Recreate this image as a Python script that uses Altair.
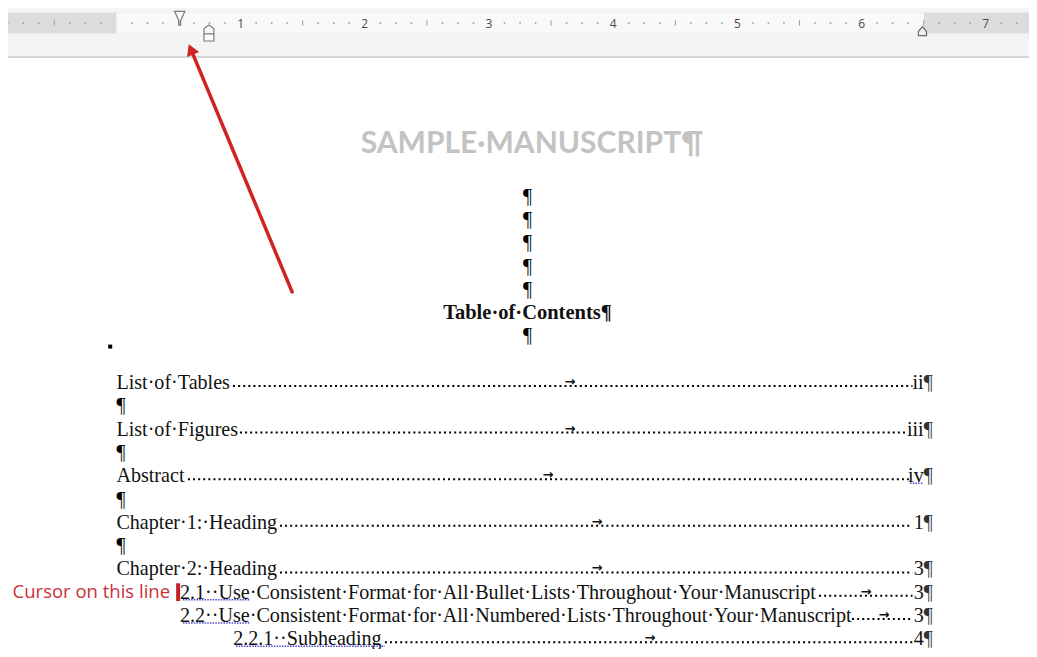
import altair as alt
import pandas as pd

# ------------------------------------------------------------------
# Data: document content in ruler inches (x) and text lines (y)
# ------------------------------------------------------------------
ruler_labels = [1, 2, 3, 4, 5, 6, 7]
ruler_dots = [k / 8 for k in range(-7, 59) if k % 4 != 0]
ruler_halves = [k / 2 for k in range(-1, 15, 2)]
ruler_row = -5.408            # vertical centre of the ruler, in text lines

indent_first_line = 0.51      # down-triangle marker
indent_hanging = 0.745        # house marker
indent_right = 6.49           # right indent marker

title_text = "SAMPLE·MANUSCRIPT¶"
title_pos = (3.346, -0.2)

centered_pilcrow_lines = [2, 3, 4, 5, 6, 8]
centered_x = 3.31
toc_heading = "Table·of·Contents¶"
toc_heading_line = 7

left_pilcrow_lines = [11, 13, 15, 17]

toc_titles = [
    "List·of·Tables",
    "List·of·Figures",
    "Abstract",
    "Chapter·1:·Heading",
    "Chapter·2:·Heading",
    "2.1··Use·Consistent·Format·for·All·Bullet·Lists·Throughout·Your·Manuscript",
    "2.2··Use·Consistent·Format·for·All·Numbered·Lists·Throughout·Your·Manuscript",
    "2.2.1··Subheading",
]
toc_pages = ["ii", "iii", "iv", "1", "3", "3", "3", "4"]
toc_lines = [10, 12, 14, 16, 18, 19, 20, 21]
toc_indent = [0.0, 0.0, 0.0, 0.0, 0.0, 0.512, 0.512, 0.94]
toc_text_end = [0.939, 0.995, 0.576, 1.317, 1.317, 5.657, 5.923, 2.162]
toc_tab_arrow = [3.652, 3.652, 3.475, 3.869, 3.869, 6.035, 6.18, 4.296]
toc_leader_end = [6.41, 6.36, 6.38, 6.39, 6.41, 6.41, 6.41, 6.41]
right_tab = 6.5

# spell-check squiggles: (line, x start, x end)
squiggle_lines = [14, 19, 20, 21]
squiggle_x0 = [6.39, 0.536, 0.536, 0.963]
squiggle_x1 = [6.49, 1.075, 1.075, 2.162]

cursor_label = "Cursor on this line"
cursor_line = 19
cursor_label_x = 0.432
cursor_x = 0.497

arrow_tail = (1.415, 6.137)
arrow_head = (0.600, -4.275)

# ------------------------------------------------------------------
# Scales (1 inch on the ruler = 124.2 px, one text line = 23.3 px)
# ------------------------------------------------------------------
W, H = 1021, 641
PX_IN, X0 = 124.2, 116.4
PX_LINE, L10 = 23.3, 382.0
x_dom = [(8 - X0) / PX_IN, (8 + W - X0) / PX_IN]
y_dom = [10 + (8 - L10) / PX_LINE, 10 + (8 + H - L10) / PX_LINE]

xs = alt.Scale(domain=x_dom, nice=False, zero=False)
ys = alt.Scale(domain=y_dom, nice=False, zero=False, reverse=True)


def X(f="x"):
    return alt.X(f"{f}:Q", scale=xs, axis=None)


def Y(f="y"):
    return alt.Y(f"{f}:Q", scale=ys, axis=None)


SERIF = "Liberation Serif"
FS = 20.1
DY = 1
INK = "#111111"

# ------------------------------------------------------------------
# Ruler / chrome
# ------------------------------------------------------------------
chrome = pd.DataFrame([
    {"x": x_dom[0], "x2": x_dom[1], "y": y_dom[0], "y2": -3.99, "c": "#f4f4f4"},
    {"x": x_dom[0], "x2": x_dom[1], "y": -5.86, "y2": -4.96, "c": "#dcdcdc"},
    {"x": 0.0, "x2": right_tab, "y": -5.86, "y2": -4.96, "c": "#f9f9f9"},
    {"x": x_dom[0], "x2": x_dom[1], "y": -3.99, "y2": -3.906, "c": "#d6d6d6"},
])
chrome_layer = alt.Chart(chrome).mark_rect().encode(
    x=X(), x2="x2:Q", y=Y(), y2="y2:Q", color=alt.Color("c:N", scale=None)
)

dots_layer = alt.Chart(pd.DataFrame({"x": ruler_dots, "y": ruler_row})).mark_square(
    size=2.5, color="#9a9a9a", opacity=1
).encode(x=X(), y=Y())

halves_layer = alt.Chart(
    pd.DataFrame({"x": ruler_halves, "y": ruler_row - 0.11, "y2": ruler_row + 0.11})
).mark_rule(color="#9a9a9a", strokeWidth=1).encode(x=X(), y=Y(), y2="y2:Q")

ruler_num_layer = alt.Chart(
    pd.DataFrame({"x": ruler_labels, "y": ruler_row, "t": [str(v) for v in ruler_labels]})
).mark_text(font="Open Sans", fontSize=12, color="#4a4a4a", baseline="middle",
            align="center", dy=1).encode(x=X(), y=Y(), text="t:N")

first_line_shape = "M-0.75,-1 L0.75,-1 L0.12,0.35 L0.12,1 L-0.12,1 L-0.12,0.35 Z"
hanging_shape = ("M0,-1 L0.62,-0.55 L0.62,0.1 L-0.62,0.1 L-0.62,-0.55 Z "
                 "M-0.62,0.1 L0.62,0.1 L0.62,1 L-0.62,1 Z")
right_shape = "M0,-1 L0.9,0.1 L0.9,1 L-0.9,1 L-0.9,0.1 Z"

m1 = alt.Chart(pd.DataFrame({"x": [indent_first_line], "y": [-5.612]})).mark_point(
    shape=first_line_shape, size=190, filled=True, fill="#fafafa", stroke="#7a7a7a",
    strokeWidth=1.2, opacity=1).encode(x=X(), y=Y())
m2 = alt.Chart(pd.DataFrame({"x": [indent_hanging], "y": [-4.979]})).mark_point(
    shape=hanging_shape, size=256, filled=True, fill="#fafafa", stroke="#7a7a7a",
    strokeWidth=1.2, opacity=1).encode(x=X(), y=Y())
m3 = alt.Chart(pd.DataFrame({"x": [indent_right], "y": [-5.06]})).mark_point(
    shape=right_shape, size=81, filled=True, fill="#f0f0f0", stroke="#6a6a6a",
    strokeWidth=1.2, opacity=1).encode(x=X(), y=Y())

# ------------------------------------------------------------------
# Document text
# ------------------------------------------------------------------
title_layer = alt.Chart(
    pd.DataFrame({"x": [title_pos[0]], "y": [title_pos[1]], "t": [title_text]})
).mark_text(font="Lato", fontWeight="bold", fontSize=30, color="#c3c3c3",
            align="center", baseline="middle").encode(x=X(), y=Y(), text="t:N")

centered_layer = alt.Chart(
    pd.DataFrame({"x": centered_x, "y": centered_pilcrow_lines, "t": "¶"})
).mark_text(font=SERIF, fontSize=FS, color="#000000", align="center",
            baseline="middle", dy=DY).encode(x=X(), y=Y(), text="t:N")

heading_layer = alt.Chart(
    pd.DataFrame({"x": [centered_x], "y": [toc_heading_line], "t": [toc_heading]})
).mark_text(font=SERIF, fontSize=20.5, fontWeight="bold", color=INK,
            align="center", baseline="middle", dy=DY).encode(x=X(), y=Y(), text="t:N")

left_pil_layer = alt.Chart(
    pd.DataFrame({"x": 0.0, "y": left_pilcrow_lines, "t": "¶"})
).mark_text(font=SERIF, fontSize=FS, color="#000000", align="left",
            baseline="middle", dy=DY).encode(x=X(), y=Y(), text="t:N")

toc = pd.DataFrame({
    "t": toc_titles, "p": toc_pages, "y": toc_lines, "x": toc_indent,
    "end": toc_text_end, "tab": toc_tab_arrow, "lead": toc_leader_end,
    "rt": right_tab,
})

toc_text_layer = alt.Chart(toc).mark_text(
    font=SERIF, fontSize=FS, color=INK, align="left", baseline="middle", dy=DY
).encode(x=X(), y=Y(), text="t:N")

leader_layer = alt.Chart(toc).mark_rule(
    color="#000000", strokeWidth=2, strokeDash=[2, 3.1], yOffset=4
).encode(x=X("end"), x2="lead:Q", y=Y())

tab_layer = alt.Chart(toc.assign(a="→")).mark_text(
    font="DejaVu Sans", fontSize=13, fontWeight="bold", color="#111111",
    align="center", baseline="middle", dy=0
).encode(x=X("tab"), y=Y(), text="a:N")

page_layer = alt.Chart(toc).mark_text(
    font=SERIF, fontSize=FS, color=INK, align="right", baseline="middle", dy=DY
).encode(x=X("rt"), y=Y(), text="p:N")

page_pil_layer = alt.Chart(toc.assign(a="¶")).mark_text(
    font=SERIF, fontSize=FS, color="#333333", align="left", baseline="middle", dy=DY
).encode(x=X("rt"), y=Y(), text="a:N")

squiggle_layer = alt.Chart(
    pd.DataFrame({"y": squiggle_lines, "x": squiggle_x0, "x2": squiggle_x1})
).mark_rule(color="#4a4ad0", strokeWidth=1.6, strokeDash=[1.5, 1.2], yOffset=8
            ).encode(x=X(), x2="x2:Q", y=Y())

bullet_layer = alt.Chart(pd.DataFrame({"x": [-0.05], "y": [8.48]})).mark_square(
    size=16, color="#000000", opacity=1).encode(x=X(), y=Y())

# ------------------------------------------------------------------
# Annotations
# ------------------------------------------------------------------
cursor_text_layer = alt.Chart(
    pd.DataFrame({"x": [cursor_label_x], "y": [cursor_line], "t": [cursor_label]})
).mark_text(font="Open Sans", fontSize=18.5, color="#c8323a", align="right",
            baseline="middle", dy=0).encode(x=X(), y=Y(), text="t:N")

cursor_bar_layer = alt.Chart(
    pd.DataFrame({"x": [cursor_x], "y": [cursor_line - 0.36], "y2": [cursor_line + 0.4]})
).mark_rule(color="#c8202a", strokeWidth=4).encode(x=X(), y=Y(), y2="y2:Q")

arrow_line_layer = alt.Chart(pd.DataFrame({
    "x": [arrow_tail[0]], "y": [arrow_tail[1]], "x2": [arrow_head[0]], "y2": [arrow_head[1]]
})).mark_rule(color="#d02424", strokeWidth=3.5, strokeCap="round").encode(
    x=X(), y=Y(), x2="x2:Q", y2="y2:Q")

arrow_head_layer = alt.Chart(
    pd.DataFrame({"x": [arrow_head[0]], "y": [arrow_head[1]]})
).mark_point(shape="triangle-up", size=170, filled=True, color="#d02424",
             opacity=1, angle=337.4).encode(x=X(), y=Y())

chart = alt.layer(
    chrome_layer, dots_layer, halves_layer, ruler_num_layer, m1, m2, m3,
    title_layer, centered_layer, heading_layer, left_pil_layer,
    leader_layer, tab_layer, toc_text_layer, page_layer, page_pil_layer,
    squiggle_layer, bullet_layer,
    cursor_text_layer, cursor_bar_layer, arrow_line_layer, arrow_head_layer,
).properties(
    width=W, height=H, padding=0, background="#ffffff",
    autosize=alt.AutoSizeParams(type="none"),
).configure_view(stroke=None)

chart.save("out.html", embed_options={"renderer": "svg", "actions": False})
